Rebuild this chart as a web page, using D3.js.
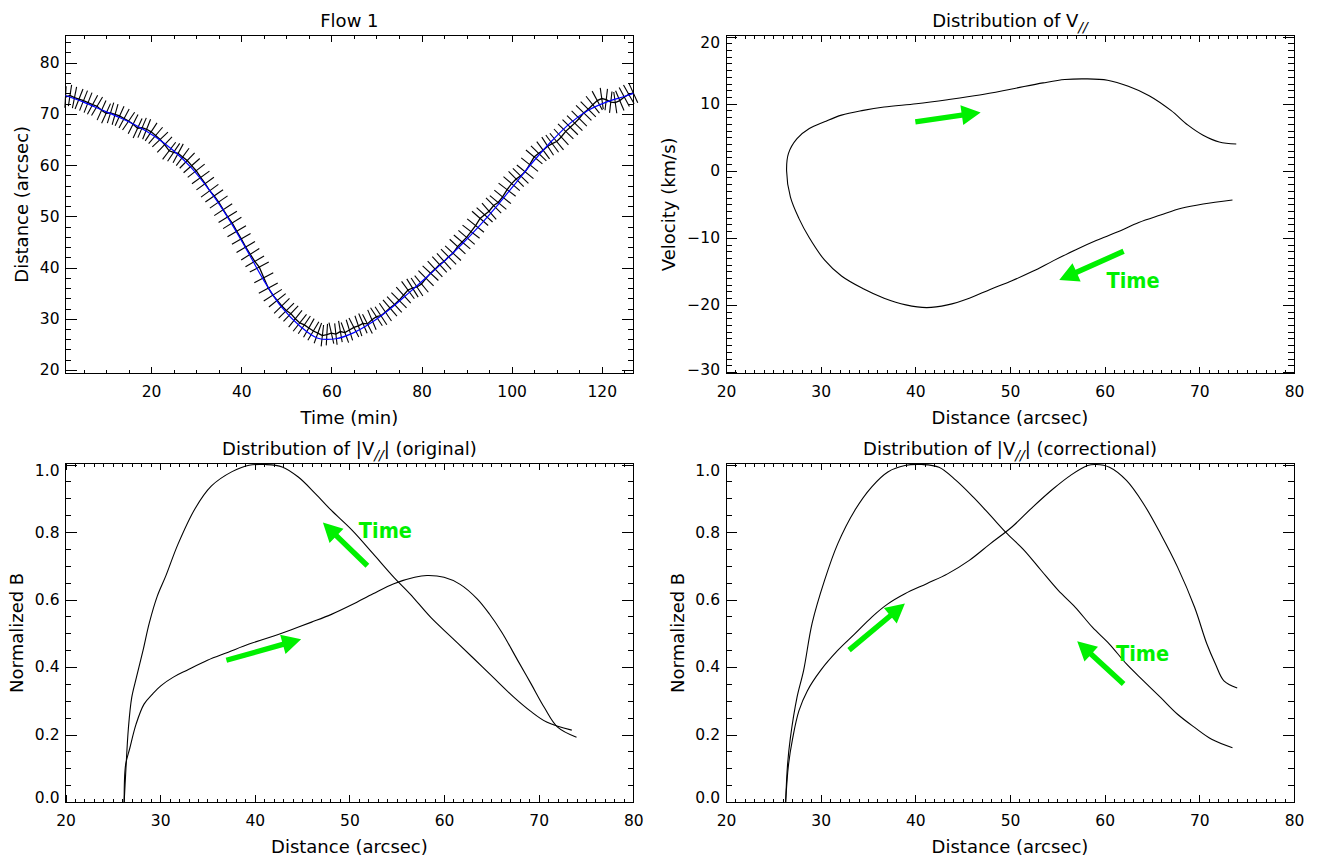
<!DOCTYPE html>
<html>
<head>
<meta charset="utf-8">
<script src="https://cdn.jsdelivr.net/npm/d3@7"></script>
<style>
  body { margin: 0; background: #fff; }
  svg { display: block; }
  .ax line { stroke: #000; stroke-width: 1; shape-rendering: crispEdges; }
  .ax text { font-family: "DejaVu Sans", sans-serif; font-size: 15.5px; fill: #000; }
  .lbl { font-family: "DejaVu Sans", sans-serif; font-size: 18px; fill: #000; }
  .time { font-family: "DejaVu Sans", sans-serif; font-weight: bold; font-size: 22px; fill: #00f000; }
</style>
</head>
<body>
<svg id="chart" width="1317" height="859"></svg>
<script>
// ---------- Flow 1: projected distance along the loop, one sample per minute (t = 1..127) ----------
const flowDistance = [
  73.3, 73.6, 73.2, 72.9, 72.6, 72.2, 71.8, 71.5, 70.7, 70.1,
  70.2, 69.9, 69.6, 69.1, 68.6, 68.0, 67.2, 67.3, 67.0, 66.5,
  65.8, 65.0, 64.0, 62.8, 62.5, 62.3, 61.6, 60.9, 59.9, 58.9,
  57.6, 56.4, 55.0, 54.0, 52.8, 51.3, 49.9, 48.7, 47.1, 45.6,
  44.0, 42.6, 41.2, 40.1, 38.0, 36.0, 34.6, 33.6, 32.5, 31.6,
  31.0, 30.0, 29.2, 28.8, 28.2, 27.6, 27.2, 26.7, 26.9, 27.2,
  27.0, 27.5, 27.3, 27.8, 28.3, 28.6, 29.1, 29.0, 29.8, 30.4,
  30.6, 31.3, 32.1, 32.8, 33.6, 34.6, 35.6, 36.0, 36.2, 36.8,
  37.9, 38.9, 39.7, 40.6, 41.2, 42.1, 42.8, 44.1, 45.0, 45.9,
  47.0, 48.2, 49.6, 50.3, 51.0, 52.1, 52.7, 53.8, 55.2, 56.4,
  57.3, 57.9, 58.7, 60.1, 61.6, 62.3, 62.9, 63.7, 64.2, 64.6,
  65.5, 66.6, 67.4, 68.2, 69.1, 70.2, 70.9, 71.8, 72.6, 73.0,
  72.8, 72.3, 72.2, 72.6, 73.3, 73.8, 74.1
];
const flowStartMinute = 1;
const flowErr = 2.1;                      // position uncertainty (arcsec)

// smooth fit to the track
const fitTime = [1, 5, 9, 13, 17, 21, 25, 29, 33, 37, 41, 45, 49, 53, 57, 61, 65,
                 69, 73, 77, 81, 85, 89, 93, 97, 101, 105, 109, 113, 117, 121, 125, 127];
const fitDistance = [73.6, 72.3, 70.8, 69.3, 67.6, 65.5, 62.8, 59.4, 55.0, 49.8, 43.8, 37.5, 32.2,
                     28.6, 26.2, 26.1, 27.3, 29.3, 31.9, 34.9, 38.0, 41.2, 44.6, 48.3, 52.3, 56.6,
                     60.9, 64.8, 68.2, 70.7, 72.3, 73.4, 74.0];

// ---------- V// against distance (traversed in time order) ----------
const vDist = [73.5, 70.4, 68.1, 65.9, 63.6, 61.4, 59.1, 56.9, 54.6, 52.4, 50.2, 47.9, 45.7, 43.4,
               41.2, 39.0, 36.7, 34.5, 32.2, 30.4, 28.8, 27.7, 26.8, 26.4, 26.6, 27.5, 28.8, 30.4,
               32.2, 34.5, 36.7, 40.1, 43.4, 46.8, 50.2, 53.5, 55.8, 58.0, 60.3, 62.5, 64.7, 67.0,
               68.8, 70.4, 72.1, 73.9];
const vVel = [-4.36, -4.95, -5.6, -6.6, -7.7, -9.1, -10.4, -11.8, -13.4, -15.0, -16.4, -17.7, -19.0, -20.0,
              -20.4, -20.0, -19.0, -17.6, -15.7, -13.3, -10.0, -7.1, -3.9, 0.0, 2.6, 4.8, 6.3, 7.3,
              8.3, 9.0, 9.5, 10.0, 10.6, 11.3, 12.2, 13.1, 13.6, 13.7, 13.5, 12.6, 11.2, 9.0,
              6.8, 5.3, 4.3, 4.0];

// ---------- |V//| normalised, original ----------
const origDownX = [26.2, 26.35, 26.65, 27.0, 27.5, 28.2, 28.85, 29.7, 30.6, 31.9, 33.7, 35.4, 37.6, 39.4, 41.1,
                   42.9, 44.6, 46.4, 48.1, 50.3, 52.5, 54.7, 56.4, 58.6, 60.8, 63.0, 65.2, 67.4, 69.1, 70.9, 73.5];
const origDownY = [0, 0.08, 0.22, 0.31, 0.37, 0.45, 0.53, 0.61, 0.67, 0.765, 0.87, 0.936, 0.979, 0.998, 1.0,
                   0.993, 0.963, 0.914, 0.864, 0.805, 0.736, 0.666, 0.617, 0.547, 0.488, 0.429, 0.369, 0.310, 0.270, 0.236, 0.213];
const origUpX = [26.2, 26.35, 26.8, 27.45, 28.3, 29.2, 30.1, 31.4, 32.8, 35.0, 37.2, 39.4, 41.6, 43.8, 46.0, 48.1,
                 50.3, 52.5, 54.7, 56.9, 58.2, 60.0, 61.7, 63.5, 64.8, 66.1, 67.8, 69.2, 70.6, 72.0, 74.0];
const origUpY = [0, 0.11, 0.16, 0.23, 0.29, 0.32, 0.345, 0.37, 0.39, 0.42, 0.444, 0.468, 0.488, 0.51, 0.533, 0.556,
                 0.585, 0.617, 0.647, 0.666, 0.671, 0.666, 0.645, 0.602, 0.557, 0.503, 0.419, 0.35, 0.28, 0.222, 0.192];

// ---------- |V//| normalised, correctional ----------
const corrDownX = [26.3, 26.5, 26.8, 27.5, 28.2, 29.1, 30.4, 31.8, 33.6, 35.4, 37.1, 38.9, 40.7, 42.5, 44.3, 46.1,
                   47.9, 49.7, 51.5, 53.3, 55.1, 56.9, 58.7, 60.5, 62.3, 64.1, 65.9, 67.7, 69.5, 71.3, 73.5];
const corrDownY = [0, 0.11, 0.19, 0.31, 0.39, 0.53, 0.656, 0.765, 0.864, 0.934, 0.978, 0.997, 1.0, 0.992, 0.953, 0.904,
                   0.85, 0.795, 0.746, 0.686, 0.627, 0.577, 0.518, 0.468, 0.409, 0.359, 0.31, 0.26, 0.221, 0.186, 0.161];
const corrUpX = [26.3, 26.6, 27.05, 27.7, 28.6, 30.0, 31.8, 33.6, 35.4, 37.1, 38.9, 41.2, 43.4, 45.7, 47.9, 50.2,
                 52.4, 54.6, 56.4, 58.2, 59.1, 60.5, 62.3, 64.1, 65.9, 67.7, 69.5, 70.8, 71.7, 72.6, 74.0];
const corrUpY = [0, 0.11, 0.19, 0.27, 0.33, 0.39, 0.449, 0.498, 0.548, 0.587, 0.617, 0.647, 0.676, 0.716, 0.765, 0.815,
                 0.874, 0.929, 0.968, 0.997, 1.0, 0.992, 0.953, 0.884, 0.795, 0.696, 0.577, 0.468, 0.409, 0.359, 0.338];

// ---------- annotation arrows (data coordinates) ----------
const arrowsV = [{x0: 40.0, y0: 7.3, x1: 46.9, y1: 8.7}, {x0: 62.0, y0: -12.0, x1: 55.2, y1: -16.3}];
const timeLabelV = {x: 63.0, y: -16.4};
const arrowsOrig = [{x0: 37.0, y0: 0.42, x1: 44.9, y1: 0.482}, {x0: 51.9, y0: 0.70, x1: 47.2, y1: 0.828}];
const timeLabelOrig = {x: 53.8, y: 0.805};
const arrowsCorr = [{x0: 33.0, y0: 0.45, x1: 38.9, y1: 0.588}, {x0: 62.0, y0: 0.35, x1: 57.1, y1: 0.476}];
const timeLabelCorr = {x: 64.0, y: 0.44};

// ---------- tick values ----------
const flowTimeTicks = [20, 40, 60, 80, 100, 120];
const flowDistTicks = [20, 30, 40, 50, 60, 70, 80];
const distTicks = [20, 30, 40, 50, 60, 70, 80];
const velTicks = [-30, -20, -10, 0, 10, 20];
const normTicks = [0, 0.2, 0.4, 0.6, 0.8, 1.0];

// ---------- layout ----------
const boxes = {
  tl: {l: 65.5, r: 633.3, t: 35.3, b: 373.3},
  tr: {l: 726, r: 1294, t: 35.3, b: 373.3},
  bl: {l: 65.5, r: 633.3, t: 463.7, b: 802},
  br: {l: 726, r: 1294, t: 463.7, b: 802}
};
const GREEN = "#00f000";
const svg = d3.select("#chart");

function drawFrame(box, x, y, cfg) {
  const g = svg.append("g");
  const xLen = 0.02 * (box.b - box.t), yLen = 0.02 * (box.r - box.l);
  const put = (tr, axis) => {
    const a = g.append("g").attr("class", "ax").attr("transform", tr).call(axis);
    a.select(".domain").remove();
    return a;
  };
  // bottom / top
  put(`translate(0,${box.b})`, d3.axisBottom(x).tickValues(cfg.xMinor).tickSize(-xLen / 2).tickSizeOuter(0).tickFormat(""));
  put(`translate(0,${box.b})`, d3.axisBottom(x).tickValues(cfg.xMajor).tickSize(-xLen).tickSizeOuter(0).tickPadding(12.5).tickFormat(cfg.xFmt));
  put(`translate(0,${box.t})`, d3.axisTop(x).tickValues(cfg.xMinor).tickSize(-xLen / 2).tickSizeOuter(0).tickFormat(""));
  put(`translate(0,${box.t})`, d3.axisTop(x).tickValues(cfg.xMajor).tickSize(-xLen).tickSizeOuter(0).tickFormat(""));
  // left / right
  put(`translate(${box.l},0)`, d3.axisLeft(y).tickValues(cfg.yMinor).tickSize(-yLen / 2).tickSizeOuter(0).tickFormat(""));
  const left = put(`translate(${box.l},0)`, d3.axisLeft(y).tickValues(cfg.yMajor).tickSize(-yLen).tickSizeOuter(0).tickPadding(6).tickFormat(cfg.yFmt));
  left.selectAll(".tick").each(function (d) {
    const Y = y(d);
    const c = Math.max(box.t + 7, Math.min(box.b - 4, Y));
    d3.select(this).select("text").attr("y", c - Y);
  });
  put(`translate(${box.r},0)`, d3.axisRight(y).tickValues(cfg.yMinor).tickSize(-yLen / 2).tickSizeOuter(0).tickFormat(""));
  put(`translate(${box.r},0)`, d3.axisRight(y).tickValues(cfg.yMajor).tickSize(-yLen).tickSizeOuter(0).tickFormat(""));

  g.append("rect").attr("x", box.l).attr("y", box.t)
    .attr("width", box.r - box.l).attr("height", box.b - box.t)
    .attr("fill", "none").attr("stroke", "#000").attr("stroke-width", 1)
    .attr("shape-rendering", "crispEdges");

  // title with optional subscript pieces
  const title = g.append("text").attr("class", "lbl").attr("text-anchor", "middle")
    .attr("x", (box.l + box.r) / 2).attr("y", box.t - 8.5);
  cfg.title.forEach(p => {
    const s = title.append("tspan").text(p.t);
    if (p.sub) s.attr("font-size", "14px").attr("dy", 5).attr("font-style", "italic");
    else if (p.after) s.attr("dy", -5);
  });
  g.append("text").attr("class", "lbl").attr("text-anchor", "middle")
    .attr("x", (box.l + box.r) / 2).attr("y", box.b + 50.5).text(cfg.xTitle);
  g.append("text").attr("class", "lbl").attr("text-anchor", "middle").attr("dominant-baseline", "central")
    .attr("transform", `translate(${box.l - cfg.yTitleOff},${(box.t + box.b) / 2}) rotate(-90)`)
    .text(cfg.yTitle);
  return g;
}

function arrow(g, x, y, a) {
  const p0 = [x(a.x0), y(a.y0)], p1 = [x(a.x1), y(a.y1)];
  const dx = p1[0] - p0[0], dy = p1[1] - p0[1];
  const L = Math.hypot(dx, dy), ux = dx / L, uy = dy / L, nx = -uy, ny = ux;
  const head = 19, hw = 10, sw = 2.7;
  const b = [p1[0] - ux * head, p1[1] - uy * head];
  const pts = [
    [p0[0] + nx * sw, p0[1] + ny * sw], [b[0] + nx * sw, b[1] + ny * sw], [b[0] + nx * hw, b[1] + ny * hw],
    p1, [b[0] - nx * hw, b[1] - ny * hw], [b[0] - nx * sw, b[1] - ny * sw], [p0[0] - nx * sw, p0[1] - ny * sw]
  ];
  g.append("polygon").attr("points", pts.map(p => p.join(",")).join(" ")).attr("fill", GREEN);
}

function timeLabel(g, x, y, p) {
  g.append("text").attr("class", "time").attr("text-anchor", "middle").attr("dominant-baseline", "central")
    .attr("transform", `translate(${x(p.x)},${y(p.y)}) scale(0.88,1)`).text("Time");
}

const fmtInt = d3.format("d");
const fmt1 = d3.format(".1f");

// ================= Panel 1: Flow 1 =================
{
  const box = boxes.tl;
  const x = d3.scaleLinear([1, 127], [box.l, box.r]);
  const y = d3.scaleLinear([19.35, 85.35], [box.b, box.t]);
  const g = drawFrame(box, x, y, {
    xMajor: flowTimeTicks, xMinor: d3.range(5, 127, 5), xFmt: fmtInt,
    yMajor: flowDistTicks, yMinor: d3.range(20, 86, 2), yFmt: fmtInt,
    title: [{t: "Flow 1"}], xTitle: "Time (min)", yTitle: "Distance (arcsec)", yTitleOff: 44.5
  });
  const pts = flowDistance.map((d, i) => [x(flowStartMinute + i), y(d)]);
  // uncertainty bars drawn across the track
  const half = y(0) - y(flowErr);
  const n = pts.length;
  const bars = pts.map((p, i) => {
    const a = pts[Math.max(0, i - 2)], b = pts[Math.min(n - 1, i + 2)];
    const tx = b[0] - a[0], ty = b[1] - a[1], tl = Math.hypot(tx, ty);
    const nx = -ty / tl, ny = tx / tl;
    return [p[0] - nx * half, p[1] - ny * half, p[0] + nx * half, p[1] + ny * half];
  });
  g.append("g").selectAll("line").data(bars).join("line")
    .attr("x1", d => d[0]).attr("y1", d => d[1]).attr("x2", d => d[2]).attr("y2", d => d[3])
    .attr("stroke", "#000").attr("stroke-width", 1.1);
  g.append("path").attr("d", d3.line()(pts)).attr("fill", "none").attr("stroke", "#000").attr("stroke-width", 1.3);
  g.append("path")
    .attr("d", d3.line().x((d, i) => x(fitTime[i])).y(d => y(d)).curve(d3.curveCatmullRom)(fitDistance))
    .attr("fill", "none").attr("stroke", "#0000ff").attr("stroke-width", 1.2);
}

// ================= Panel 2: Distribution of V// =================
{
  const box = boxes.tr;
  const x = d3.scaleLinear([20, 80], [box.l, box.r]);
  const y = d3.scaleLinear([-30.2, 20.2], [box.b, box.t]);
  const g = drawFrame(box, x, y, {
    xMajor: distTicks, xMinor: d3.range(20, 80.01, 1), xFmt: fmtInt,
    yMajor: velTicks, yMinor: d3.range(-30, 20.01, 1), yFmt: fmtInt,
    title: [{t: "Distribution of V"}, {t: "//", sub: true}],
    xTitle: "Distance (arcsec)", yTitle: "Velocity (km/s)", yTitleOff: 57.3
  });
  g.append("path")
    .attr("d", d3.line().x((d, i) => x(vDist[i])).y(d => y(d)).curve(d3.curveCatmullRom)(vVel))
    .attr("fill", "none").attr("stroke", "#000").attr("stroke-width", 1.1);
  arrowsV.forEach(a => arrow(g, x, y, a));
  timeLabel(g, x, y, timeLabelV);
}

// ================= Panels 3 & 4: normalised |V//| =================
function normPanel(box, title, curves, arrows, tl) {
  const x = d3.scaleLinear([20, 80], [box.l, box.r]);
  const y = d3.scaleLinear([0, 1.0025], [box.b, box.t]);
  const g = drawFrame(box, x, y, {
    xMajor: distTicks, xMinor: d3.range(20, 80.01, 1), xFmt: fmtInt,
    yMajor: normTicks, yMinor: d3.range(0, 1.0001, 0.05), yFmt: fmt1,
    title: title, xTitle: "Distance (arcsec)", yTitle: "Normalized B", yTitleOff: 49
  });
  curves.forEach(([xs, ys]) => {
    g.append("path")
      .attr("d", d3.line().x((d, i) => x(xs[i])).y(d => y(d)).curve(d3.curveCatmullRom)(ys))
      .attr("fill", "none").attr("stroke", "#000").attr("stroke-width", 1.1);
  });
  arrows.forEach(a => arrow(g, x, y, a));
  timeLabel(g, x, y, tl);
}
normPanel(boxes.bl,
  [{t: "Distribution of |V"}, {t: "//", sub: true}, {t: "| (original)", after: true}],
  [[origDownX, origDownY], [origUpX, origUpY]], arrowsOrig, timeLabelOrig);
normPanel(boxes.br,
  [{t: "Distribution of |V"}, {t: "//", sub: true}, {t: "| (correctional)", after: true}],
  [[corrDownX, corrDownY], [corrUpX, corrUpY]], arrowsCorr, timeLabelCorr);
</script>
</body>
</html>
